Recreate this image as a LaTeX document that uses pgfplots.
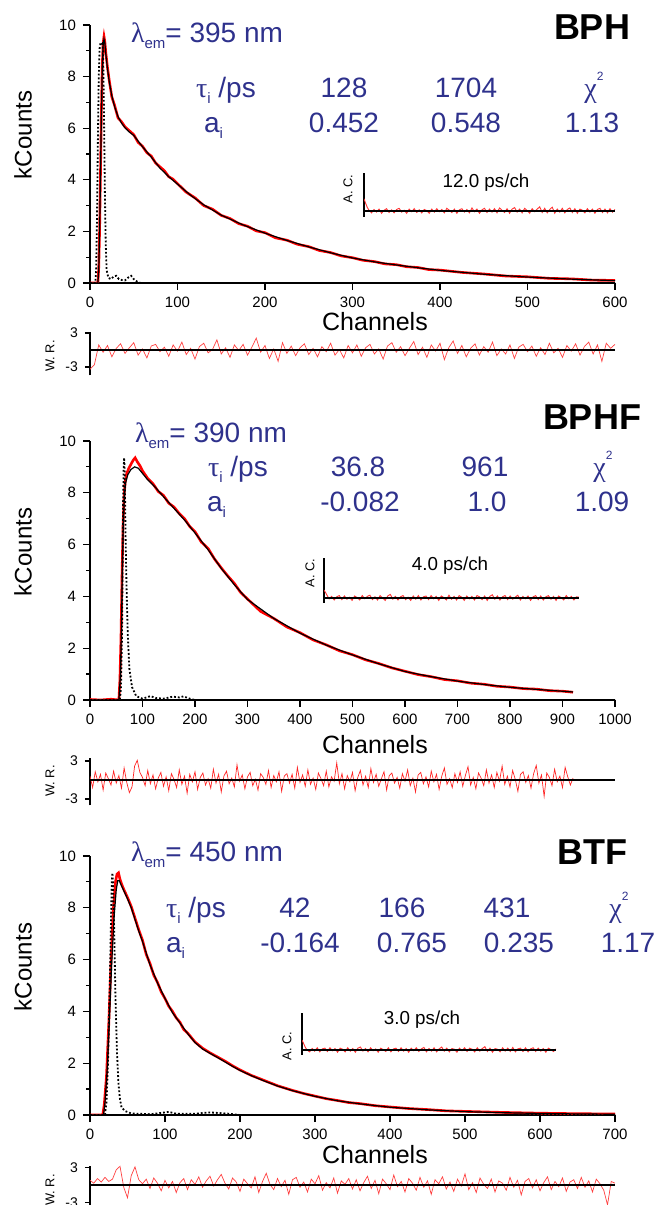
\documentclass[border=0pt]{standalone}
\usepackage{fontspec}
\setmainfont{Liberation Sans}
\newfontfamily\grk{Liberation Serif}
\usepackage{pgfplots}
\pgfplotsset{compat=1.18}
\definecolor{ink}{RGB}{46,49,140}

\pgfplotsset{
  decay/.style={scale only axis, width=262.5pt, anchor=south west,
    axis x line=bottom, axis y line=left, axis line style={-, line width=0.8pt},
    ymin=0, ymax=10, ytick distance=2, minor y tick num=1, xtick distance=100,
    enlargelimits=false, tick align=outside, major tick length=3.5pt, minor tick length=2pt,
    tick style={line width=0.6pt, black},
    ticklabel style={font=\fontsize{7.5}{8}\selectfont},
    /pgf/number format/assume math mode=true, /pgf/number format/1000 sep={}},
  resid/.style={scale only axis, width=262.5pt, anchor=south west,
    axis y line=left, axis x line=none, axis line style={-, line width=0.6pt},
    ytick={-3,3}, yticklabels={-3,3}, enlargelimits=false,
    tick align=outside, major tick length=2.5pt, tick style={line width=0.6pt, black},
    ticklabel style={font=\fontsize{7}{7}\selectfont}},
  ac/.style={scale only axis, anchor=south west, axis y line=left, axis x line=none,
    axis line style={-, line width=0.6pt}, ticks=none, xmin=0, xmax=300, ymax=1,
    enlargelimits=false},
  irf/.style={black, densely dotted, line width=0.9pt},
  dat/.style={red, line width=1.3pt},
  fit/.style={black, line width=0.6pt},
  wr/.style={red!75, line width=0.35pt},
  acl/.style={red!80, line width=0.45pt},
  zero/.style={black, line width=0.8pt}
}

\newcommand\sub[1]{\raisebox{-0.35ex}{\fontsize{7.5}{8}\selectfont #1}}
\newcommand\taup{{\grk τ}\sub{i} /ps}
\newcommand\ai{a\sub{i}}
\newcommand\chisq{{\grk χ}\raisebox{1.2ex}{\fontsize{6}{6}\selectfont 2}}
\newcommand\lam[1]{{\grk λ}\sub{em}= #1 nm}

\begin{document}
\begin{tikzpicture}[x=1pt, y=1pt]
\useasboundingbox (0,0) rectangle (327.5,602.5);

% ================= BPH =================
\begin{axis}[decay, at={(45pt,461pt)}, height=129pt, xmin=0, xmax=600]
\addplot[dat] coordinates {(0,0)(9,0)(10,0.6)(11,2.1)(12,4.3)(13,6.6)(14,8.4)(15,9.3)(16,9.55)(17,9.35)(18,8.95)(20,8.35)(22,7.85)(25,7.2)(28,6.9)(32,6.4)(36,6.25)(40,6.05)(45,5.9)(50,5.75)(55,5.45)(60,5.3)(65,5.05)(70,4.92)(75,4.65)(80,4.5)(85,4.35)(90,4.12)(95,4.02)(100,3.85)(110,3.52)(120,3.3)(130,3.0)(140,2.86)(150,2.62)(160,2.5)(170,2.3)(180,2.2)(190,2.02)(200,1.95)(212,1.75)(225,1.66)(237,1.5)(250,1.41)(262,1.26)(275,1.18)(287,1.05)(300,0.98)(312,0.88)(325,0.83)(337,0.74)(350,0.71)(362,0.63)(375,0.6)(387,0.52)(400,0.5)(425,0.41)(450,0.35)(475,0.27)(500,0.24)(525,0.18)(550,0.16)(575,0.11)(600,0.1)};
\addplot[irf] coordinates {(0,0)(6,0)(7,0.5)(8,2.5)(9,5.5)(10,8.0)(11,9.1)(12,9.3)(14,9.3)(15,9.0)(16,6.5)(17,3.5)(18,1.5)(19,0.5)(21,0.2)(24,0.15)(27,0.25)(30,0.28)(33,0.15)(36,0.12)(40,0.1)(44,0.22)(47,0.28)(50,0.15)(54,0.05)(58,0)(600,0)};
\addplot[fit] coordinates {(0,0)(9,0)(10,0.5)(11,2.0)(12,4.2)(13,6.5)(14,8.3)(15,9.2)(16,9.45)(17,9.3)(18,8.9)(20,8.3)(22,7.8)(25,7.25)(28,6.85)(32,6.45)(36,6.2)(40,6.02)(45,5.85)(50,5.72)(55,5.5)(60,5.28)(70,4.88)(80,4.45)(90,4.12)(100,3.83)(115,3.4)(130,3.03)(150,2.63)(175,2.25)(200,1.93)(225,1.65)(250,1.4)(275,1.17)(300,0.97)(325,0.82)(350,0.7)(375,0.59)(400,0.49)(450,0.34)(500,0.23)(550,0.15)(600,0.09)};
\end{axis}

\begin{axis}[ac, at={(182pt,494pt)}, width=125.5pt, height=22pt, ymin=-0.158]
\addplot[acl] coordinates {(0,0.32)(2,0.2)(4,0.09)(6,0.02)(9,-0.05)(12,0.04)(15,-0.03)(18,0.05)(21,-0.06)(24,0.02)(27,0.06)(30,-0.04)(33,0.03)(36,-0.05)(39,0.04)(42,0.07)(45,-0.03)(48,0.02)(51,-0.06)(54,0.05)(57,-0.02)(60,0.06)(63,-0.04)(66,0.03)(69,-0.05)(72,0.04)(75,0.01)(78,-0.06)(81,0.05)(84,-0.03)(87,0.06)(90,-0.02)(93,0.04)(96,-0.05)(99,0.07)(102,0.02)(105,-0.04)(108,0.05)(111,-0.06)(114,0.03)(117,0.06)(120,-0.03)(123,0.04)(126,-0.05)(129,0.08)(132,-0.02)(135,0.05)(138,-0.06)(141,0.03)(144,0.07)(147,-0.04)(150,0.05)(153,-0.03)(156,0.06)(159,-0.05)(162,0.08)(165,0.02)(168,-0.04)(171,0.06)(174,-0.06)(177,0.05)(180,0.09)(183,-0.03)(186,0.05)(189,-0.05)(192,0.07)(195,0.01)(198,-0.06)(201,0.06)(204,-0.02)(207,0.05)(210,0.11)(213,-0.04)(216,0.07)(219,-0.05)(222,0.04)(225,0.1)(228,-0.06)(231,0.05)(234,-0.03)(237,0.07)(240,-0.05)(243,0.04)(246,0.08)(249,-0.04)(252,0.06)(255,-0.06)(258,0.05)(261,0.02)(264,-0.05)(267,0.06)(270,-0.03)(273,0.05)(276,-0.06)(279,0.04)(282,0.07)(285,-0.04)(288,0.05)(291,-0.05)(294,0.06)(297,-0.03)(300,0.04)};
\addplot[zero] coordinates {(0,0)(300,0)};
\end{axis}

\begin{axis}[resid, at={(45pt,414.75pt)}, height=21.8pt, xmin=0, xmax=600, ymin=-4.5, ymax=3.2]
\addplot[wr] coordinates {(0,-3.4)(5,-2.6)(10,0.9)(15,-0.4)(20,0.8)(25,-1.2)(30,0.3)(35,1.1)(40,-0.6)(45,0.4)(50,1.3)(55,-0.9)(60,0.2)(65,-1.4)(70,0.7)(75,1.0)(80,-0.3)(85,0.5)(90,-1.1)(95,0.9)(100,-0.2)(105,1.4)(110,-0.8)(115,0.3)(120,-1.6)(125,0.6)(130,1.2)(135,-0.5)(140,0.1)(145,1.8)(150,-0.7)(155,0.4)(160,-1.3)(165,0.9)(170,-0.1)(175,1.0)(180,-0.9)(185,0.5)(190,2.1)(195,-0.4)(200,0.8)(205,-1.5)(210,0.2)(215,-2.0)(220,1.3)(225,-0.6)(230,0.7)(235,-1.0)(240,0.4)(245,1.1)(250,-0.8)(255,0.3)(260,-1.2)(265,0.6)(270,-0.3)(275,1.2)(280,-0.9)(285,0.1)(290,-1.4)(295,0.8)(300,-0.5)(305,0.9)(310,-1.1)(315,0.4)(320,1.0)(325,-0.7)(330,0.2)(335,-1.6)(340,0.7)(345,1.3)(350,-0.4)(355,0.6)(360,-1.0)(365,0.3)(370,1.5)(375,-0.8)(380,0.5)(385,-1.3)(390,0.9)(395,-0.2)(400,1.2)(405,-1.7)(410,0.4)(415,1.6)(420,-0.6)(425,0.8)(430,-1.2)(435,0.3)(440,1.1)(445,-0.9)(450,0.6)(455,-0.4)(460,1.4)(465,-1.0)(470,0.2)(475,-0.7)(480,0.9)(485,-1.5)(490,0.5)(495,1.0)(500,-0.3)(505,0.7)(510,-1.1)(515,0.4)(520,-0.8)(525,1.2)(530,-0.5)(535,0.3)(540,-1.3)(545,0.8)(550,-0.2)(555,1.1)(560,-0.9)(565,0.6)(570,1.4)(575,-0.7)(580,0.9)(585,-2.0)(590,1.2)(595,0.3)(600,1.0)};
\addplot[zero] coordinates {(0,0)(600,0)};
\end{axis}

\node[anchor=base, font=\fontsize{18}{18}\selectfont\bfseries] at (296,582.6) {BPH};
\node[anchor=base west, ink, font=\fontsize{14}{14}\selectfont] at (62,581) {\lam{395}};
\begin{scope}[ink, every node/.style={font=\fontsize{14}{14}\selectfont}]
\node[anchor=base west] at (94.5,553.5) {\taup};
\node[anchor=base] at (172,553.5) {128};
\node[anchor=base] at (233,553.5) {1704};
\node[anchor=base] at (297,553.5) {\chisq};
\node[anchor=base west] at (98.5,536) {\ai};
\node[anchor=base] at (172,536) {0.452};
\node[anchor=base] at (233,536) {0.548};
\node[anchor=base] at (296,536) {1.13};
\end{scope}
\node[rotate=90, font=\fontsize{12}{12}\selectfont] at (11.5,535) {kCounts};
\node[font=\fontsize{12.5}{12.5}\selectfont] at (187.5,441.5) {Channels};
\node[font=\fontsize{9.4}{9.4}\selectfont] at (243,511) {12.0 ps/ch};
\node[rotate=90, font=\fontsize{6.4}{6.4}\selectfont] at (174,508) {A. C.};
\node[rotate=90, font=\fontsize{6.4}{6.4}\selectfont] at (25,424.5) {W. R.};

% ================= BPHF =================
\begin{axis}[decay, at={(45pt,252.5pt)}, height=129.5pt, xmin=0, xmax=1000]
\addplot[dat] coordinates {(0,0.02)(20,0)(40,0.03)(55,0)(57,0.8)(59,2.4)(61,4.8)(63,6.8)(65,7.9)(67,8.4)(70,8.75)(74,8.95)(78,9.1)(82,9.25)(86,9.35)(90,9.2)(95,9.05)(100,8.85)(110,8.55)(120,8.35)(130,8.05)(140,7.9)(150,7.6)(160,7.45)(170,7.2)(180,7.0)(190,6.7)(200,6.5)(212,6.1)(225,5.85)(237,5.45)(250,5.1)(262,4.8)(275,4.5)(287,4.15)(300,3.9)(325,3.42)(350,3.15)(375,2.82)(400,2.6)(425,2.32)(450,2.13)(475,1.9)(500,1.75)(525,1.55)(550,1.41)(575,1.24)(600,1.11)(625,0.98)(650,0.9)(675,0.79)(700,0.74)(725,0.65)(750,0.61)(775,0.53)(800,0.5)(825,0.44)(850,0.42)(875,0.36)(900,0.34)(920,0.3)};
\addplot[irf] coordinates {(0,0)(57,0)(59,0.5)(61,2.5)(62,5.0)(63,7.5)(64,8.9)(65,9.35)(66,8.9)(67,7.5)(68,6.0)(70,4.0)(72,2.5)(75,1.2)(80,0.5)(88,0.15)(100,0.05)(115,0.15)(125,0.08)(140,0.05)(158,0.13)(170,0.1)(178,0.14)(190,0.05)(200,0)(1000,0)};
\addplot[fit] coordinates {(0,0)(55,0)(58,1.0)(60,3.0)(62,5.5)(64,7.2)(66,8.0)(68,8.4)(72,8.7)(78,8.9)(85,9.0)(92,8.95)(100,8.75)(110,8.5)(125,8.2)(140,7.85)(160,7.4)(180,6.95)(200,6.45)(225,5.8)(250,5.08)(275,4.45)(300,3.88)(350,3.15)(400,2.58)(450,2.12)(500,1.74)(550,1.4)(600,1.1)(650,0.9)(700,0.73)(750,0.6)(800,0.49)(850,0.41)(920,0.31)};
\end{axis}

\begin{axis}[ac, at={(162pt,301pt)}, width=127.5pt, height=22.5pt, ymin=-0.125]
\addplot[acl] coordinates {(0,0.2)(2,0.13)(4,0.05)(6,-0.02)(9,0.04)(12,-0.05)(15,0.03)(18,0.06)(21,-0.04)(24,0.05)(27,-0.03)(30,0.02)(33,-0.06)(36,0.05)(39,0.01)(42,-0.05)(45,0.06)(48,-0.02)(51,0.04)(54,0.07)(57,-0.04)(60,0.03)(63,-0.05)(66,0.06)(69,0.0)(72,-0.06)(75,0.05)(78,0.09)(81,-0.03)(84,0.04)(87,-0.05)(90,0.03)(93,0.06)(96,-0.04)(99,0.02)(102,-0.06)(105,0.05)(108,-0.03)(111,0.06)(114,-0.05)(117,0.03)(120,0.05)(123,-0.04)(126,0.06)(129,-0.02)(132,0.04)(135,-0.06)(138,0.05)(141,0.01)(144,-0.05)(147,0.07)(150,-0.03)(153,0.04)(156,-0.05)(159,0.06)(162,0.02)(165,-0.06)(168,0.05)(171,-0.02)(174,0.04)(177,-0.05)(180,0.06)(183,0.03)(186,-0.04)(189,0.05)(192,-0.06)(195,0.04)(198,0.08)(201,-0.03)(204,0.05)(207,-0.05)(210,0.03)(213,0.06)(216,-0.04)(219,0.05)(222,-0.03)(225,0.02)(228,0.07)(231,-0.05)(234,0.04)(237,-0.02)(240,0.05)(243,-0.06)(246,0.03)(249,0.06)(252,-0.04)(255,0.05)(258,-0.05)(261,0.03)(264,0.06)(267,-0.03)(270,0.04)(273,-0.06)(276,0.05)(279,0.01)(282,-0.05)(285,0.06)(288,-0.02)(291,0.04)(294,-0.05)(297,0.03)(300,0.02)};
\addplot[zero] coordinates {(0,0)(300,0)};
\end{axis}

\begin{axis}[resid, at={(45pt,199.85pt)}, height=23.75pt, xmin=0, xmax=1000, ymin=-4, ymax=3.5]
\addplot[red!85, line width=0.35pt] coordinates {(0,0.6)(5,-1.2)(10,1.3)(15,-0.3)(20,0.9)(25,-1.6)(30,1.1)(35,0.2)(40,-0.8)(45,1.4)(50,-0.5)(55,0.7)(60,-1.3)(65,1.9)(70,-0.4)(75,-2.0)(80,-1.1)(85,2.2)(90,3.1)(95,1.2)(100,0.4)(105,-0.9)(110,1.5)(115,-0.6)(120,0.8)(125,-1.4)(130,0.3)(135,1.2)(140,-1.0)(145,0.5)(150,-1.7)(155,1.0)(160,0.1)(165,-1.2)(170,1.6)(175,-0.7)(180,0.6)(185,-2.1)(190,0.9)(195,-0.3)(200,1.3)(205,-1.5)(210,0.4)(215,1.1)(220,-0.8)(225,0.2)(230,-1.3)(235,1.7)(240,-0.5)(245,0.9)(250,-1.9)(255,0.6)(260,1.4)(265,-0.6)(270,0.3)(275,-1.1)(280,2.4)(285,-0.2)(290,0.8)(295,-1.4)(300,0.5)(305,1.2)(310,-0.9)(315,0.1)(320,-1.6)(325,1.0)(330,0.4)(335,-0.7)(340,1.5)(345,-1.2)(350,0.7)(355,-0.3)(360,1.3)(365,-1.8)(370,0.6)(375,1.0)(380,-0.5)(385,0.9)(390,-1.3)(395,2.0)(400,-0.4)(405,0.8)(410,-1.0)(415,1.6)(420,-0.7)(425,0.3)(430,-1.5)(435,1.1)(440,0.2)(445,-0.9)(450,1.4)(455,-1.1)(460,0.5)(465,-0.2)(470,2.7)(475,-0.6)(480,1.0)(485,-1.4)(490,0.7)(495,-0.3)(500,1.2)(505,-1.7)(510,0.4)(515,1.5)(520,-0.8)(525,0.6)(530,-1.2)(535,1.8)(540,-0.4)(545,0.9)(550,-1.0)(555,0.2)(560,1.3)(565,-1.6)(570,0.7)(575,1.1)(580,-0.5)(585,0.4)(590,-1.3)(595,1.0)(600,-0.2)(605,1.6)(610,-0.9)(615,0.3)(620,-1.9)(625,0.8)(630,1.2)(635,-0.6)(640,0.5)(645,-1.1)(650,1.4)(655,-0.3)(660,0.9)(665,-1.5)(670,0.6)(675,1.9)(680,-0.7)(685,0.2)(690,-1.2)(695,1.0)(700,-0.4)(705,1.3)(710,-1.0)(715,0.7)(720,2.1)(725,-0.8)(730,0.4)(735,-1.4)(740,1.1)(745,0.3)(750,-0.9)(755,1.6)(760,-0.5)(765,0.8)(770,-1.2)(775,1.2)(780,-0.2)(785,2.2)(790,-0.7)(795,0.6)(800,-1.1)(805,1.5)(810,0.1)(815,-1.8)(820,0.9)(825,1.3)(830,-0.4)(835,0.7)(840,-1.3)(845,1.0)(850,2.3)(855,-0.5)(860,0.8)(865,-2.6)(870,1.1)(875,0.4)(880,-0.9)(885,1.7)(890,-0.3)(895,0.6)(900,-1.2)(905,2.0)(910,0.5)(915,-0.8)(920,0.3)};
\addplot[zero] coordinates {(0,0)(1000,0)};
\end{axis}

\node[anchor=base, font=\fontsize{18}{18}\selectfont\bfseries] at (296,387.6) {BPHF};
\node[anchor=base west, ink, font=\fontsize{14}{14}\selectfont] at (64,381) {\lam{390}};
\begin{scope}[ink, every node/.style={font=\fontsize{14}{14}\selectfont}]
\node[anchor=base west] at (100.5,364) {\taup};
\node[anchor=base] at (179,364) {36.8};
\node[anchor=base] at (242.5,364) {961};
\node[anchor=base] at (301.5,364) {\chisq};
\node[anchor=base west] at (100,346.5) {\ai};
\node[anchor=base] at (180,346.5) {-0.082};
\node[anchor=base] at (243.5,346.5) {1.0};
\node[anchor=base] at (301,346.5) {1.09};
\end{scope}
\node[rotate=90, font=\fontsize{12}{12}\selectfont] at (11.5,326.5) {kCounts};
\node[font=\fontsize{12.5}{12.5}\selectfont] at (187.5,230) {Channels};
\node[font=\fontsize{9.4}{9.4}\selectfont] at (225,319.5) {4.0 ps/ch};
\node[rotate=90, font=\fontsize{6.4}{6.4}\selectfont] at (155,316) {A. C.};
\node[rotate=90, font=\fontsize{6.4}{6.4}\selectfont] at (25,212) {W. R.};

% ================= BTF =================
\begin{axis}[decay, at={(45pt,45pt)}, height=129.5pt, xmin=0, xmax=700]
\addplot[dat] coordinates {(0,0)(17,0)(19,0.4)(22,1.5)(25,3.5)(28,5.9)(31,7.9)(34,9.0)(36,9.3)(38,9.35)(40,9.1)(43,8.85)(46,8.65)(50,8.4)(55,8.05)(60,7.6)(65,7.15)(70,6.75)(75,6.2)(80,5.85)(85,5.4)(90,5.12)(95,4.75)(100,4.5)(105,4.2)(110,4.0)(115,3.75)(120,3.58)(125,3.3)(130,3.17)(140,2.82)(150,2.58)(160,2.4)(170,2.24)(180,2.08)(190,1.9)(200,1.74)(215,1.53)(230,1.36)(250,1.13)(270,0.95)(285,0.83)(300,0.73)(315,0.63)(330,0.56)(345,0.48)(360,0.44)(380,0.36)(400,0.31)(425,0.25)(450,0.21)(475,0.16)(500,0.14)(550,0.1)(600,0.07)(650,0.05)(700,0.04)};
\addplot[irf] coordinates {(0,0)(20,0)(22,0.5)(24,2.0)(26,4.5)(28,7.5)(29,9.0)(30,9.35)(31,8.7)(32,7.5)(33,6.0)(34,4.5)(36,2.4)(38,1.2)(40,0.6)(42,0.3)(47,0.15)(55,0.06)(80,0.03)(95,0.08)(105,0.12)(115,0.05)(140,0.05)(160,0.1)(170,0.08)(185,0.05)(200,0)(700,0)};
\addplot[fit] coordinates {(0,0)(18,0)(20,0.5)(23,1.8)(26,3.8)(29,5.9)(32,7.6)(35,8.7)(37,9.05)(39,9.05)(42,8.85)(46,8.6)(50,8.35)(55,8.0)(60,7.55)(65,7.1)(70,6.7)(80,5.8)(90,5.1)(100,4.5)(110,3.95)(120,3.55)(130,3.15)(140,2.8)(150,2.55)(160,2.38)(170,2.22)(180,2.05)(190,1.88)(200,1.72)(215,1.52)(230,1.34)(250,1.12)(270,0.94)(300,0.72)(330,0.55)(360,0.43)(400,0.3)(450,0.2)(500,0.13)(550,0.09)(600,0.06)(650,0.04)(700,0.03)};
\end{axis}

\begin{axis}[ac, at={(151pt,75pt)}, width=127pt, height=21pt, ymin=-0.135]
\addplot[acl] coordinates {(0,0.27)(2,0.17)(4,0.07)(6,0.0)(9,-0.05)(12,0.04)(15,-0.03)(18,0.06)(21,-0.05)(24,0.03)(27,0.05)(30,-0.04)(33,0.06)(36,-0.02)(39,0.04)(42,-0.06)(45,0.05)(48,0.02)(51,-0.05)(54,0.06)(57,-0.03)(60,0.04)(63,-0.06)(66,0.05)(69,0.08)(72,-0.03)(75,0.04)(78,-0.05)(81,0.06)(84,-0.02)(87,0.03)(90,-0.06)(93,0.05)(96,0.01)(99,-0.04)(102,0.06)(105,-0.05)(108,0.03)(111,0.05)(114,-0.04)(117,0.06)(120,-0.03)(123,0.04)(126,-0.06)(129,0.05)(132,-0.02)(135,0.06)(138,-0.04)(141,0.03)(144,0.07)(147,-0.05)(150,0.04)(153,-0.03)(156,0.06)(159,-0.05)(162,0.03)(165,0.08)(168,-0.03)(171,0.05)(174,-0.05)(177,0.04)(180,0.02)(183,-0.06)(186,0.05)(189,-0.02)(192,0.06)(195,-0.04)(198,0.05)(201,0.02)(204,-0.05)(207,0.06)(210,-0.03)(213,0.04)(216,0.09)(219,-0.04)(222,0.05)(225,-0.06)(228,0.04)(231,0.02)(234,-0.05)(237,0.06)(240,-0.03)(243,0.05)(246,-0.04)(249,0.07)(252,-0.05)(255,0.03)(258,0.05)(261,-0.04)(264,0.06)(267,-0.05)(270,0.03)(273,0.06)(276,-0.04)(279,0.05)(282,-0.03)(285,0.04)(288,-0.06)(291,0.05)(294,0.01)(297,-0.04)(300,0.03)};
\addplot[zero] coordinates {(0,0)(300,0)};
\end{axis}

\begin{axis}[resid, at={(45pt,0.1pt)}, height=19.4pt, xmin=0, xmax=700, ymin=-3.4, ymax=3.25]
\addplot[wr] coordinates {(0,0.8)(5,0.3)(10,1.1)(15,0.5)(20,1.3)(25,0.6)(30,1.0)(35,2.6)(40,3.2)(45,-0.4)(50,-2.2)(55,1.6)(60,3.1)(65,0.9)(70,0.2)(75,1.0)(80,-0.6)(85,1.2)(90,0.3)(95,-1.0)(100,0.8)(105,-0.5)(110,0.6)(115,-1.3)(120,0.4)(125,1.1)(130,-0.8)(135,0.9)(140,0.1)(145,1.4)(150,-0.4)(155,0.7)(160,1.5)(165,-0.2)(170,0.9)(175,1.8)(180,0.3)(185,-0.7)(190,1.2)(195,0.5)(200,-1.1)(205,1.0)(210,0.2)(215,-0.5)(220,1.4)(225,-1.3)(230,0.6)(235,2.0)(240,0.1)(245,-0.8)(250,1.1)(255,-0.3)(260,0.8)(265,-1.6)(270,0.9)(275,1.3)(280,-0.4)(285,0.5)(290,-1.2)(295,1.0)(300,0.2)(305,1.6)(310,-0.9)(315,0.4)(320,-0.5)(325,1.2)(330,-1.4)(335,0.7)(340,0.1)(345,1.1)(350,-0.7)(355,0.9)(360,-1.0)(365,0.4)(370,1.5)(375,-0.6)(380,0.8)(385,-1.5)(390,1.0)(395,0.2)(400,-0.8)(405,1.7)(410,-0.3)(415,0.6)(420,-1.2)(425,1.1)(430,0.3)(435,-0.9)(440,1.3)(445,-0.4)(450,0.7)(455,-1.6)(460,0.9)(465,0.2)(470,1.4)(475,-0.7)(480,0.5)(485,-1.1)(490,1.0)(495,-0.2)(500,1.9)(505,-0.8)(510,0.4)(515,-1.3)(520,1.2)(525,0.1)(530,-0.6)(535,1.0)(540,-1.2)(545,0.7)(550,0.3)(555,-0.9)(560,1.3)(565,-0.4)(570,0.8)(575,-1.7)(580,0.6)(585,1.1)(590,-0.5)(595,0.9)(600,-1.0)(605,0.4)(610,1.4)(615,-0.8)(620,0.6)(625,-0.3)(630,1.2)(635,-1.1)(640,0.5)(645,0.9)(650,-0.6)(655,1.3)(660,-0.4)(665,0.7)(670,-1.2)(675,1.0)(680,0.2)(685,-0.9)(690,-3.4)(695,0.6)(700,0.3)};
\addplot[zero] coordinates {(0,0)(700,0)};
\end{axis}

\node[anchor=base, font=\fontsize{18}{18}\selectfont\bfseries] at (296,170.1) {BTF};
\node[anchor=base west, ink, font=\fontsize{14}{14}\selectfont] at (62,171.5) {\lam{450}};
\begin{scope}[ink, every node/.style={font=\fontsize{14}{14}\selectfont}]
\node[anchor=base west] at (79.5,143.5) {\taup};
\node[anchor=base] at (147.5,143.5) {42};
\node[anchor=base] at (201,143.5) {166};
\node[anchor=base] at (253.5,143.5) {431};
\node[anchor=base] at (309.5,143.5) {\chisq};
\node[anchor=base west] at (79.5,126) {\ai};
\node[anchor=base] at (150,126) {-0.164};
\node[anchor=base] at (206,126) {0.765};
\node[anchor=base] at (259.5,126) {0.235};
\node[anchor=base] at (314,126) {1.17};
\end{scope}
\node[rotate=90, font=\fontsize{12}{12}\selectfont] at (11.5,119) {kCounts};
\node[font=\fontsize{12.5}{12.5}\selectfont] at (187.5,25) {Channels};
\node[font=\fontsize{9.4}{9.4}\selectfont] at (211,92.5) {3.0 ps/ch};
\node[rotate=90, font=\fontsize{6.4}{6.4}\selectfont] at (143.5,79.5) {A. C.};
\node[rotate=90, font=\fontsize{6.4}{6.4}\selectfont] at (25,7.5) {W. R.};

\end{tikzpicture}
\end{document}
